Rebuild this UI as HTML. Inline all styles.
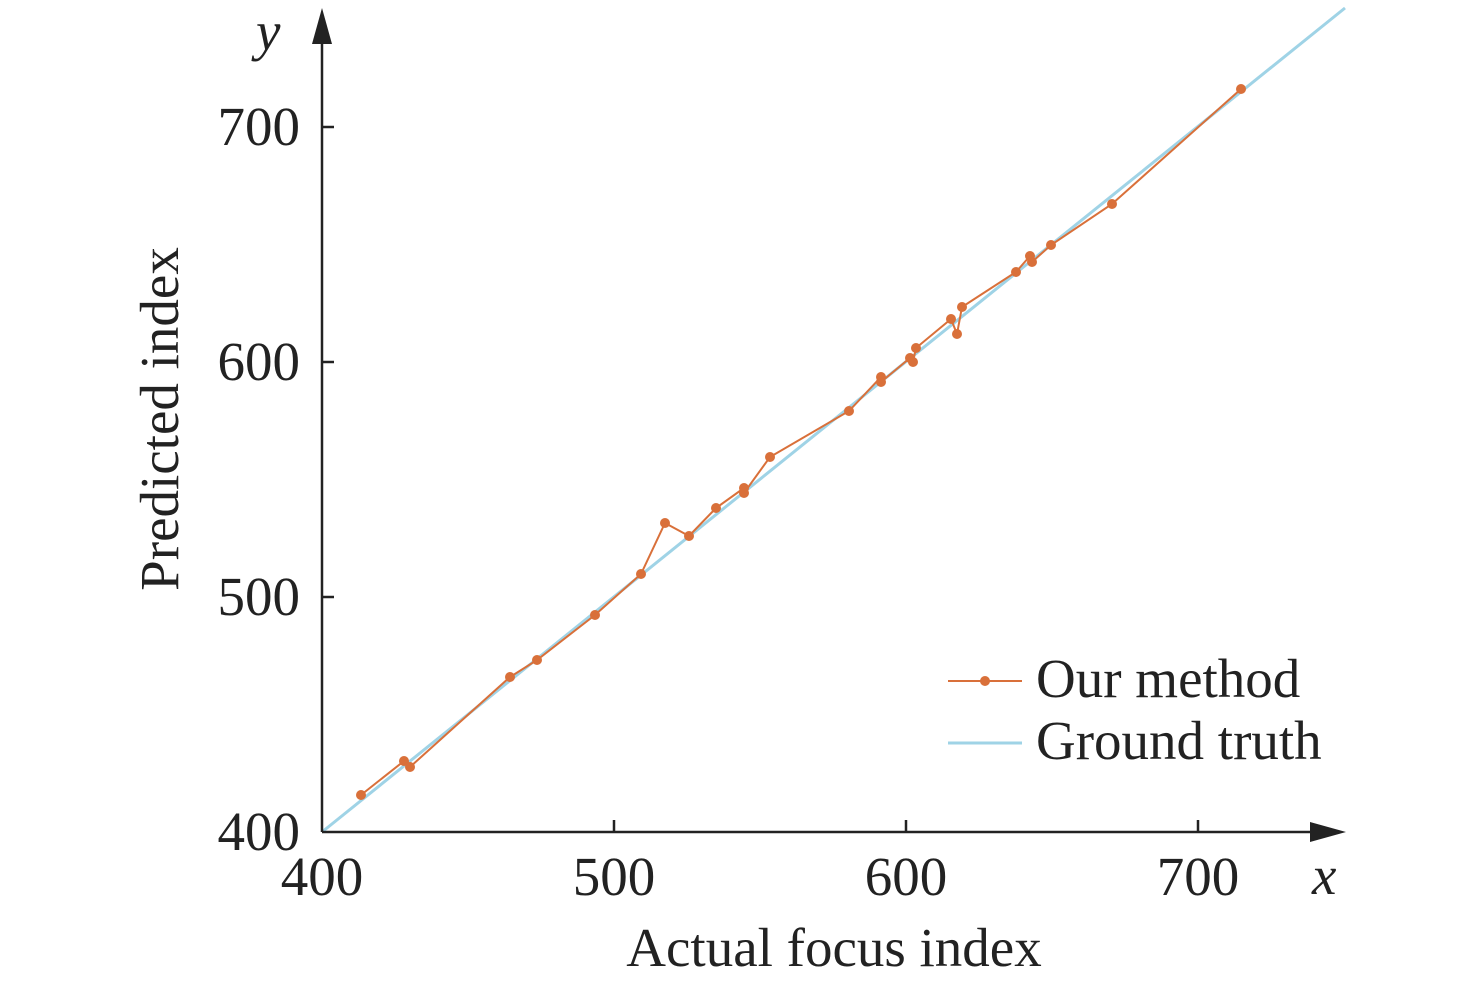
<!DOCTYPE html>
<html><head><style>
body{margin:0;background:#fff;}
svg text{font-family:"Liberation Serif",serif;fill:#222;}
</style></head><body>
<svg width="1476" height="982" viewBox="0 0 1476 982" xmlns="http://www.w3.org/2000/svg">
<line x1="322" y1="832" x2="1345" y2="8" stroke="#9fd3e6" stroke-width="3"/>
<g stroke="#222" stroke-width="2.5">
<line x1="322" y1="832" x2="322" y2="30"/>
<line x1="322" y1="832" x2="1320" y2="832"/>
<line x1="322" y1="127" x2="334" y2="127"/>
<line x1="322" y1="362" x2="334" y2="362"/>
<line x1="322" y1="597" x2="334" y2="597"/>
<line x1="614" y1="832" x2="614" y2="820"/>
<line x1="906" y1="832" x2="906" y2="820"/>
<line x1="1198" y1="832" x2="1198" y2="820"/>
</g>
<polygon points="322,8 312,44 332,44" fill="#222"/>
<polygon points="1346,832 1310,822 1310,842" fill="#222"/>
<polyline fill="none" stroke="#d9703a" stroke-width="2" points="361,795 404,761 410,767 510,677 537,660 595,615 641,574 665,523 689,536 716,508 744,488 744,493 770,457 849,411 881,377 881,382 910,358 913,362 916,348 951,319 957,334 962,307 1016,272 1030,256 1032,262 1051,245 1112,204 1241,89"/>
<g fill="#d9703a">
<circle cx="361" cy="795" r="5"/><circle cx="404" cy="761" r="5"/><circle cx="410" cy="767" r="5"/><circle cx="510" cy="677" r="5"/><circle cx="537" cy="660" r="5"/><circle cx="595" cy="615" r="5"/><circle cx="641" cy="574" r="5"/><circle cx="665" cy="523" r="5"/><circle cx="689" cy="536" r="5"/><circle cx="716" cy="508" r="5"/><circle cx="744" cy="488" r="5"/><circle cx="744" cy="493" r="5"/><circle cx="770" cy="457" r="5"/><circle cx="849" cy="411" r="5"/><circle cx="881" cy="377" r="5"/><circle cx="881" cy="382" r="5"/><circle cx="910" cy="358" r="5"/><circle cx="913" cy="362" r="5"/><circle cx="916" cy="348" r="5"/><circle cx="951" cy="319" r="5"/><circle cx="957" cy="334" r="5"/><circle cx="962" cy="307" r="5"/><circle cx="1016" cy="272" r="5"/><circle cx="1030" cy="256" r="5"/><circle cx="1032" cy="262" r="5"/><circle cx="1051" cy="245" r="5"/><circle cx="1112" cy="204" r="5"/><circle cx="1241" cy="89" r="5"/>
</g>
<g font-size="55">
<text x="300" y="145" text-anchor="end">700</text>
<text x="300" y="380" text-anchor="end">600</text>
<text x="300" y="615" text-anchor="end">500</text>
<text x="300" y="850" text-anchor="end">400</text>
<text x="322" y="895" text-anchor="middle">400</text>
<text x="614" y="895" text-anchor="middle">500</text>
<text x="906" y="895" text-anchor="middle">600</text>
<text x="1198" y="895" text-anchor="middle">700</text>
<text x="834" y="966" text-anchor="middle">Actual focus index</text>
<text transform="translate(178,419) rotate(-90)" text-anchor="middle">Predicted index</text>
<text x="256" y="50" font-style="italic">y</text>
<text x="1312" y="894" font-style="italic">x</text>
<text x="1036" y="697">Our method</text>
<text x="1036" y="759">Ground truth</text>
</g>
<line x1="948" y1="681" x2="1022" y2="681" stroke="#d9703a" stroke-width="2"/>
<circle cx="985" cy="681" r="5" fill="#d9703a"/>
<line x1="948" y1="743" x2="1022" y2="743" stroke="#9fd3e6" stroke-width="3"/>
</svg>
</body></html>
